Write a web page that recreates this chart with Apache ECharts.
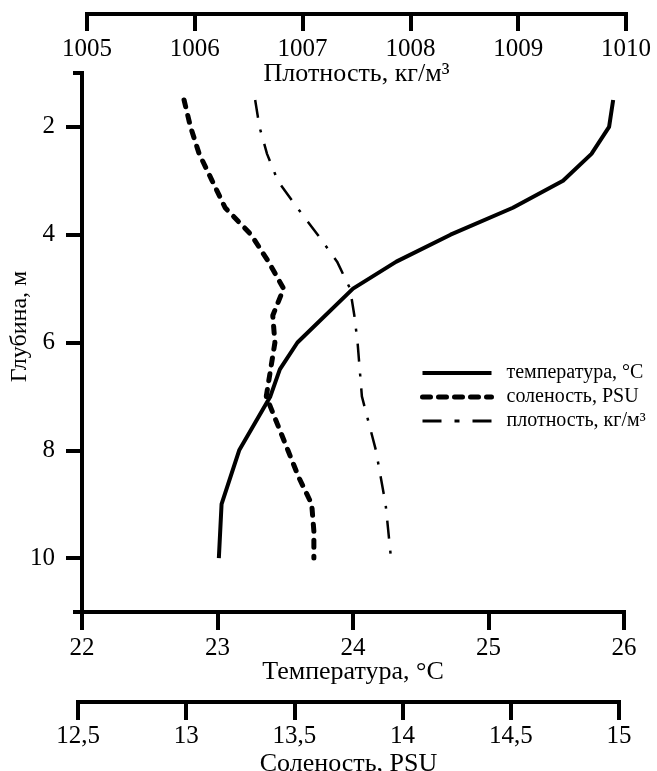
<!DOCTYPE html>
<html>
<head>
<meta charset="utf-8">
<script src="https://cdn.jsdelivr.net/npm/echarts@6/dist/echarts.min.js"></script>
<style>
html,body{margin:0;padding:0;background:#fff;}
#chart{width:657px;height:771px;}
</style>
</head>
<body>
<div id="chart"></div>
<script>
// Temperature profile (°C)
const depthT = [1.5, 2, 2.5, 3, 3.5, 4, 4.5, 5, 6, 6.5, 7, 8, 9, 10];
const temperature = [25.92, 25.89, 25.76, 25.55, 25.18, 24.72, 24.32, 24.0, 23.59, 23.46, 23.39, 23.16, 23.03, 23.01];
// Salinity profile (PSU)
const depthS = [1.5, 2, 2.5, 3, 3.5, 4, 4.5, 5, 5.5, 6, 6.5, 7, 7.5, 8, 8.5, 9, 9.5, 10];
const salinity = [12.99, 13.02, 13.06, 13.12, 13.18, 13.30, 13.38, 13.45, 13.40, 13.41, 13.39, 13.37, 13.42, 13.47, 13.52, 13.58, 13.59, 13.59];
// Density profile (kg/m3)
const depthD = [1.5, 2, 2.5, 3, 3.5, 4, 4.5, 5, 5.5, 6, 7, 8, 9, 10];
const density = [1006.56, 1006.60, 1006.67, 1006.77, 1006.95, 1007.14, 1007.32, 1007.44, 1007.48, 1007.51, 1007.55, 1007.68, 1007.77, 1007.82];

const depthTicks = [2, 4, 6, 8, 10];
const seriesNames = ['температура, °C', 'соленость, PSU', 'плотность, кг/м³'];
const axisTitles = {
  temp: 'Температура, °C',
  sal: 'Соленость, PSU',
  dens: 'Плотность, кг/м³',
  depth: 'Глубина, м'
};

const FONT = "'Liberation Serif', 'Times New Roman', serif";
const BLACK = '#000';

function pairs(xs, ys) { return xs.map((x, i) => [x, ys[i]]); }

const chart = echarts.init(document.getElementById('chart'), null, {renderer: 'canvas'});

const TOP = 73, BOTTOM = 771 - 612;
const lineAxis = {show: true, lineStyle: {color: BLACK, width: 4, cap: 'square'}};
const tickStyle = {lineStyle: {color: BLACK, width: 4}};
const labelStyle = {color: BLACK, fontFamily: FONT, fontSize: 25};
const nameStyle = {color: BLACK, fontFamily: FONT, fontSize: 26};

const hiddenSymbol = {opacity: 0, borderWidth: 0};

const option = {
  backgroundColor: '#fff',
  animation: false,
  grid: [
    {left: 82, right: 33, top: TOP, bottom: BOTTOM, outerBoundsMode: 'none', containLabel: false},
    {left: 78, right: 38, top: TOP, bottom: BOTTOM, outerBoundsMode: 'none', containLabel: false},
    {left: 87, right: 31, top: TOP, bottom: BOTTOM, outerBoundsMode: 'none', containLabel: false}
  ],
  legend: {
    orient: 'vertical',
    left: 420,
    top: 363,
    padding: 0,
    itemWidth: 69,
    itemHeight: 14,
    itemGap: 4,
    textStyle: {color: BLACK, fontFamily: FONT, fontSize: 20, padding: [0, 0, 0, 10]},
    data: [
      {name: seriesNames[0], itemStyle: hiddenSymbol, lineStyle: {color: BLACK, width: 4, type: 'solid'}},
      {name: seriesNames[1], itemStyle: hiddenSymbol, lineStyle: {color: BLACK, width: 5, type: [8, 8], cap: 'round'}},
      {name: seriesNames[2], itemStyle: hiddenSymbol, lineStyle: {color: BLACK, width: 3, type: [19, 13, 5, 13]}}
    ]
  },
  xAxis: [
    {
      gridIndex: 0, type: 'value', position: 'bottom',
      min: 22, max: 26, interval: 1,
      axisLine: lineAxis,
      axisTick: {show: true, inside: false, length: 18, ...tickStyle},
      axisLabel: {margin: 24, ...labelStyle},
      splitLine: {show: false},
      name: axisTitles.temp, nameLocation: 'middle', nameGap: 47, nameTextStyle: nameStyle,
      nameMoveOverlap: false
    },
    {
      gridIndex: 1, type: 'value', position: 'bottom', offset: 90,
      min: 12.5, max: 15, interval: 0.5,
      axisLine: lineAxis,
      axisTick: {show: true, inside: false, length: 18, ...tickStyle},
      axisLabel: {margin: 22, ...labelStyle, formatter: v => String(v).replace('.', ',')},
      splitLine: {show: false},
      name: axisTitles.sal, nameLocation: 'middle', nameGap: 49, nameTextStyle: nameStyle,
      nameMoveOverlap: false
    },
    {
      gridIndex: 2, type: 'value', position: 'top', offset: 59,
      min: 1005, max: 1010, interval: 1,
      axisLine: lineAxis,
      axisTick: {show: true, inside: true, length: 17, ...tickStyle},
      axisLabel: {inside: true, margin: 23, ...labelStyle, formatter: v => String(v)},
      splitLine: {show: false},
      name: axisTitles.dens, nameLocation: 'middle', nameGap: -73, nameTextStyle: nameStyle,
      nameMoveOverlap: false
    }
  ],
  yAxis: [
    {
      gridIndex: 0, type: 'value', inverse: true, position: 'left',
      min: 1, max: 11,
      axisLine: lineAxis,
      axisTick: {show: true, length: 16, ...tickStyle, customValues: depthTicks},
      axisLabel: {margin: 27, ...labelStyle, customValues: depthTicks},
      splitLine: {show: false},
      name: axisTitles.depth, nameLocation: 'middle', nameGap: 50,
      nameTextStyle: {...nameStyle, fontSize: 24, padding: [0, 0, 0, 32]},
      nameMoveOverlap: false
    },
    {
      gridIndex: 0, type: 'value', inverse: true, position: 'left',
      min: 1, max: 11, interval: 10,
      axisLine: {show: false},
      axisTick: {show: true, length: 9, ...tickStyle},
      axisLabel: {show: false},
      splitLine: {show: false}
    },
    {gridIndex: 1, type: 'value', inverse: true, min: 1, max: 11, show: false},
    {gridIndex: 2, type: 'value', inverse: true, min: 1, max: 11, show: false}
  ],
  series: [
    {
      name: seriesNames[0], type: 'line', xAxisIndex: 0, yAxisIndex: 0,
      data: pairs(temperature, depthT), symbol: 'none', silent: true,
      lineStyle: {color: BLACK, width: 4, type: 'solid', join: 'round'},
      itemStyle: {color: BLACK}, z: 4
    },
    {
      name: seriesNames[1], type: 'line', xAxisIndex: 1, yAxisIndex: 2,
      data: pairs(salinity, depthS), symbol: 'none', silent: true,
      lineStyle: {color: BLACK, width: 5, type: [7, 9], cap: 'round'},
      itemStyle: {color: BLACK}, z: 3
    },
    {
      name: seriesNames[2], type: 'line', xAxisIndex: 2, yAxisIndex: 3,
      data: pairs(density, depthD), symbol: 'none', silent: true,
      lineStyle: {color: BLACK, width: 2.5, type: [18, 12, 3, 12]},
      itemStyle: {color: BLACK}, z: 2
    }
  ]
};
chart.setOption(option);
</script>
</body>
</html>
